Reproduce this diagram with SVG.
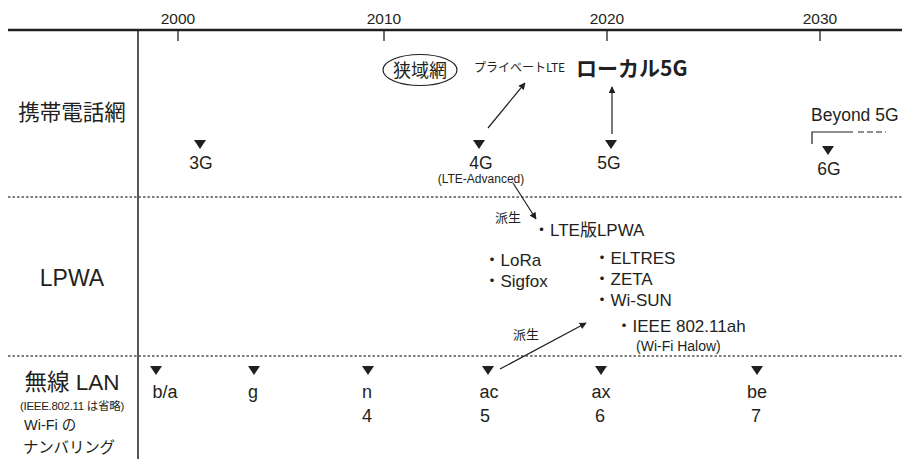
<svg xmlns="http://www.w3.org/2000/svg" width="902" height="459" viewBox="0 0 902 459">
<defs>
<style>
text{font-family:"Liberation Sans","Noto Sans CJK JP",sans-serif;fill:#231f20}
.jp{font-family:"Noto Sans CJK JP","Liberation Sans",sans-serif}
.yr{font-size:15.5px;text-anchor:middle}
.gen{font-size:17.5px;text-anchor:middle}
.wl{font-size:18px;text-anchor:middle}
.li{font-size:17px}
.dot{stroke:#555;stroke-width:1.3;stroke-dasharray:2.5 2}
.tri{fill:#231f20}
.arr{stroke:#231f20;stroke-width:1.2;fill:none;marker-end:url(#ah)}
</style>
<marker id="ah" viewBox="0 0 10 10" refX="9" refY="5" markerWidth="7" markerHeight="7" orient="auto" markerUnits="userSpaceOnUse"><path d="M0,0 L10,5 L0,10 z" fill="#231f20"/></marker>
<path id="t" d="M-6,-4 L6,-4 L0,5 z"/>
</defs>
<rect width="902" height="459" fill="#fff"/>
<g id="axis">
<line x1="8" y1="30" x2="902" y2="30" stroke="#231f20" stroke-width="2.5"/>
<line x1="138" y1="30" x2="138" y2="459" stroke="#231f20" stroke-width="1.5"/>
<g stroke="#231f20" stroke-width="1.3">
<line x1="178" y1="30" x2="178" y2="41"/><line x1="384" y1="30" x2="384" y2="41"/>
<line x1="607" y1="30" x2="607" y2="41"/><line x1="820" y1="30" x2="820" y2="41"/>
</g>
<text class="yr" x="178" y="24">2000</text><text class="yr" x="384" y="24">2010</text>
<text class="yr" x="607" y="24">2020</text><text class="yr" x="820" y="24">2030</text>
<line class="dot" x1="8" y1="197" x2="902" y2="197"/>
<line class="dot" x1="8" y1="356" x2="902" y2="356"/>
</g>
<g id="labels">
<text class="jp" x="72" y="120" font-size="21.5" text-anchor="middle">携帯電話網</text>
<text x="72" y="286" font-size="23" text-anchor="middle">LPWA</text>
<text x="72" y="390" font-size="22.5" text-anchor="middle">無線 LAN</text>
<text x="72" y="410" font-size="11.5" text-anchor="middle" letter-spacing="-0.3">(IEEE.802.11 は省略)</text>
<text x="24" y="430" font-size="14.5">Wi-Fi の</text>
<text class="jp" x="23" y="453" font-size="15.5" letter-spacing="-0.2">ナンバリング</text>
</g>
<g id="cellular">
<g id="n3G"><use href="#t" x="200" y="144" class="tri"/><text class="gen" x="201" y="169">3G</text></g>
<g id="n4G"><use href="#t" x="479" y="144" class="tri"/><text class="gen" x="481" y="169">4G</text><text x="481" y="183" font-size="12" text-anchor="middle">(LTE-Advanced)</text></g>
<g id="n5G"><use href="#t" x="611" y="144" class="tri"/><text class="gen" x="609" y="169">5G</text></g>
<g id="n6G"><use href="#t" x="828" y="150" class="tri"/><text class="gen" x="829" y="175">6G</text>
<text x="811" y="121" font-size="17.5">Beyond 5G</text>
<path d="M812,144 V132 H853" stroke="#231f20" stroke-width="1.2" fill="none"/>
<line x1="858" y1="132" x2="886" y2="132" stroke="#231f20" stroke-width="1.2" stroke-dasharray="6 3"/></g>
<g id="narrow"><ellipse cx="420" cy="70" rx="37" ry="15.5" fill="none" stroke="#231f20" stroke-width="1.2"/><text class="jp" x="420" y="77" font-size="18" text-anchor="middle">狭域網</text></g>
<g id="private"><text class="jp" x="474" y="72" font-size="12">プライベートLTE</text></g>
<g id="local5g"><text class="jp" x="576" y="76" font-size="21" font-weight="bold">ローカル5G</text></g>
</g>
<g id="lpwa">
<g id="lteLpwa"><text x="533" y="236" class="li">・LTE版LPWA</text></g>
<g id="lora"><text x="483.5" y="266" class="li">・LoRa</text><text x="483.5" y="287" class="li">・Sigfox</text></g>
<g id="eltres"><text x="593.5" y="264" class="li">・ELTRES</text><text x="593.5" y="285" class="li">・ZETA</text><text x="593.5" y="306" class="li">・Wi-SUN</text></g>
<g id="ah11"><text x="615.5" y="332" class="li">・IEEE 802.11ah</text><text x="636" y="351" font-size="14">(Wi-Fi Halow)</text></g>
<text class="jp" x="495" y="222" font-size="13">派生</text>
<text class="jp" x="513" y="339" font-size="13">派生</text>
</g>
<g id="wlan">
<g id="ba"><use href="#t" x="156" y="370" class="tri"/><text class="wl" x="165" y="398">b/a</text></g>
<g id="g"><use href="#t" x="254" y="370" class="tri"/><text class="wl" x="253" y="398">g</text></g>
<g id="n"><use href="#t" x="368" y="370" class="tri"/><text class="wl" x="367" y="398">n</text><text class="wl" x="367" y="422">4</text></g>
<g id="ac"><use href="#t" x="488" y="370" class="tri"/><text class="wl" x="489" y="398">ac</text><text class="wl" x="485" y="422">5</text></g>
<g id="ax"><use href="#t" x="601" y="370" class="tri"/><text class="wl" x="601" y="398">ax</text><text class="wl" x="600" y="422">6</text></g>
<g id="be"><use href="#t" x="757" y="370" class="tri"/><text class="wl" x="757" y="398">be</text><text class="wl" x="756" y="422">7</text></g>
</g>
<g id="connectors">
<line class="arr" x1="488" y1="128" x2="525" y2="83"/>
<line class="arr" x1="612" y1="134" x2="612" y2="87" stroke="#555"/>
<line class="arr" x1="513" y1="183" x2="536" y2="219"/>
<line class="arr" x1="500" y1="369" x2="586" y2="323"/>
</g>
</svg>
